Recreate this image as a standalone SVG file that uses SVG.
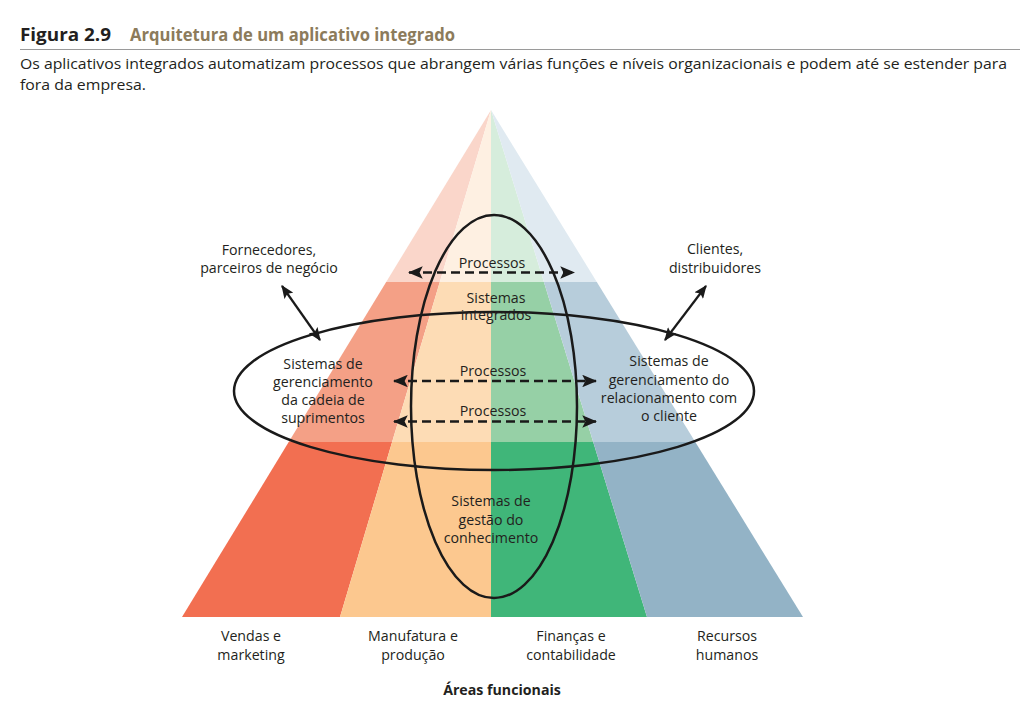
<svg xmlns="http://www.w3.org/2000/svg" width="1024" height="726" viewBox="0 0 1024 726">
<style>
text{font-family:"Open Sans","Liberation Sans",sans-serif;fill:#231f20;}
.lbl{font-size:14.2px;text-anchor:middle;}
.ell{fill:none;stroke:#1a1a1a;stroke-width:2.5;}
.dash{fill:none;stroke:#1a1a1a;stroke-width:2.5;stroke-dasharray:9 5;marker-start:url(#ah);marker-end:url(#ah);}
.arr{fill:none;stroke:#1a1a1a;stroke-width:2.2;marker-start:url(#ah);marker-end:url(#ah);}
</style>
<defs>
<marker id="ah" viewBox="0 0 12 10" refX="11" refY="5" markerWidth="6" markerHeight="5" orient="auto-start-reverse" markerUnits="strokeWidth">
<path d="M0,0 L12,5 L0,10 L2.5,5 z" fill="#1a1a1a"/>
</marker>
</defs>
<rect width="1024" height="726" fill="#ffffff"/>
<g id="header">
<text x="20" y="41" style="font-size:18px;font-weight:bold" textLength="91" lengthAdjust="spacingAndGlyphs">Figura 2.9</text>
<text x="130" y="41" style="font-size:18px;font-weight:bold;fill:#8c7b5b" textLength="325" lengthAdjust="spacingAndGlyphs">Arquitetura de um aplicativo integrado</text>
<line x1="20" y1="49.5" x2="1020" y2="49.5" stroke="#9a9a9a" stroke-width="1.2"/>
<text x="20" y="69" style="font-size:15px" textLength="987" lengthAdjust="spacingAndGlyphs">Os aplicativos integrados automatizam processos que abrangem várias funções e níveis organizacionais e podem até se estender para</text>
<text x="20" y="90" style="font-size:15px" textLength="126" lengthAdjust="spacingAndGlyphs">fora da empresa.</text>
</g>
<g id="pyramid">
<polygon points="491,110 386.2,282 439.8,282" fill="#fad6ca"/>
<polygon points="491,110 439.8,282 491,282" fill="#fef0e2"/>
<polygon points="491,110 491,282 543.9,282" fill="#d6eddc"/>
<polygon points="491,110 543.9,282 596.8,282" fill="#e0eaf1"/>
<polygon points="386.2,282 288.7,442 392.1,442 439.8,282" fill="#f4a086"/>
<polygon points="439.8,282 392.1,442 491,442 491,282" fill="#fddcb5"/>
<polygon points="491,282 491,442 593.2,442 543.9,282" fill="#96d0a6"/>
<polygon points="543.9,282 593.2,442 695.3,442 596.8,282" fill="#b7cddb"/>
<polygon points="288.7,442 182,617 340,617 392.1,442" fill="#f26f51"/>
<polygon points="392.1,442 340,617 491,617 491,442" fill="#fcc88f"/>
<polygon points="491,442 491,617 647,617 593.2,442" fill="#40b679"/>
<polygon points="593.2,442 647,617 803,617 695.3,442" fill="#93b3c6"/>
</g>
<g id="ellipse-h"><ellipse class="ell" cx="494" cy="391" rx="260" ry="79"/></g>
<g id="ellipse-v"><ellipse class="ell" cx="494" cy="406.5" rx="83" ry="191.5"/></g>
<g id="connectors">
<line class="dash" x1="409" y1="272.5" x2="574" y2="272.5"/>
<line class="dash" x1="394" y1="381" x2="596" y2="381"/>
<line class="dash" x1="394" y1="421.5" x2="596" y2="421.5"/>
<line class="arr" x1="282" y1="286" x2="320" y2="340"/>
<line class="arr" x1="706" y1="286" x2="665" y2="340"/>
</g>
<g id="labels-processos">
<text class="lbl" x="492" y="268">Processos</text>
<text class="lbl" x="493" y="376">Processos</text>
<text class="lbl" x="493" y="416">Processos</text>
</g>
<g id="node-integrados">
<text class="lbl" x="496" y="303">Sistemas</text>
<text class="lbl" x="496" y="320">integrados</text>
</g>
<g id="node-scm">
<text class="lbl" x="323" y="369">Sistemas de</text>
<text class="lbl" x="323" y="387">gerenciamento</text>
<text class="lbl" x="323" y="405">da cadeia de</text>
<text class="lbl" x="323" y="423">suprimentos</text>
</g>
<g id="node-crm">
<text class="lbl" x="669" y="366">Sistemas de</text>
<text class="lbl" x="669" y="385">gerenciamento do</text>
<text class="lbl" x="669" y="403">relacionamento com</text>
<text class="lbl" x="669" y="421">o cliente</text>
</g>
<g id="node-fornecedores">
<text class="lbl" x="269" y="255">Fornecedores,</text>
<text class="lbl" x="269" y="273">parceiros de negócio</text>
</g>
<g id="node-clientes">
<text class="lbl" x="715" y="254">Clientes,</text>
<text class="lbl" x="715" y="273">distribuidores</text>
</g>
<g id="node-km">
<text class="lbl" x="491" y="506">Sistemas de</text>
<text class="lbl" x="491" y="525">gestão do</text>
<text class="lbl" x="491" y="543">conhecimento</text>
</g>
<g id="areas">
<text class="lbl" x="251" y="641">Vendas e</text>
<text class="lbl" x="251" y="660">marketing</text>
<text class="lbl" x="413" y="641">Manufatura e</text>
<text class="lbl" x="413" y="660">produção</text>
<text class="lbl" x="571" y="641">Finanças e</text>
<text class="lbl" x="571" y="660">contabilidade</text>
<text class="lbl" x="727" y="641">Recursos</text>
<text class="lbl" x="727" y="660">humanos</text>
<text class="lbl" x="502" y="695" style="font-weight:bold">Áreas funcionais</text>
</g>
</svg>
